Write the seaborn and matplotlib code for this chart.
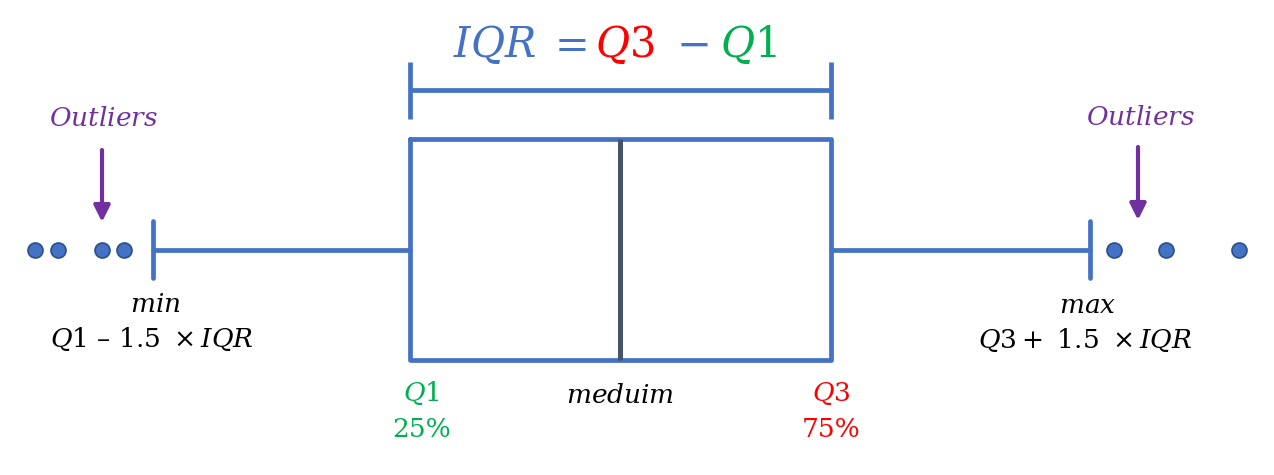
import matplotlib
matplotlib.use("Agg")
import matplotlib.pyplot as plt
import seaborn as sns
import pandas as pd

# ---- data (schematic positions along the value axis) ----
stat_names = ["whislo", "q1", "med", "q3", "whishi"]
stat_values = [153, 410, 620, 831, 1090]
outliers_low = [35, 58, 102, 124]
outliers_high = [1114, 1166, 1239]

BLUE = "#4472C4"
DARK_BLUE = "#2F528F"
MED = "#44546A"
RED = "#FF0000"
GREEN = "#00B050"
PURPLE = "#7030A0"

sns.set_theme(style="white")
plt.rcParams["font.family"] = ["DejaVu Serif"]
plt.rcParams["mathtext.fontset"] = "dejavuserif"

fig = plt.figure(figsize=(12.74, 4.75), dpi=100)
ax = fig.add_axes([0, 0, 1, 1])

stats = dict(zip(stat_names, stat_values))
stats["fliers"] = []
ypos = 249.5
lw = 3.4
ax.bxp([stats], positions=[ypos], widths=[221.5], capwidths=[57],
       orientation="horizontal", showfliers=False, patch_artist=False,
       boxprops=dict(color=BLUE, linewidth=lw),
       whiskerprops=dict(color=BLUE, linewidth=lw),
       capprops=dict(color=BLUE, linewidth=lw),
       medianprops=dict(color=MED, linewidth=3.6, solid_capstyle="butt"))

# outliers via seaborn
out_df = pd.DataFrame({"value": outliers_low + outliers_high,
                       "pos": [ypos] * (len(outliers_low) + len(outliers_high))})
sns.scatterplot(data=out_df, x="value", y="pos", s=115, color=BLUE,
                edgecolor=DARK_BLUE, linewidth=1.3, ax=ax, zorder=5, legend=False)
ax.set_xlim(0, 1274)
ax.set_ylim(475, 0)
ax.axis("off")

# IQR bracket
q1, q3 = stats["q1"], stats["q3"]
ax.plot([q1, q3], [90, 90], color=BLUE, lw=lw, solid_capstyle="butt")
ax.plot([q1, q1], [62, 119], color=BLUE, lw=lw, solid_capstyle="butt")
ax.plot([q3, q3], [62, 119], color=BLUE, lw=lw, solid_capstyle="butt")

# title pieces
tfs = 30
ax.text(495, 57, r"$IQR$", color=BLUE, fontsize=tfs, ha="center", va="baseline")
ax.text(567, 57, r"$=$", color=BLUE, fontsize=tfs, ha="center", va="baseline")
ax.text(625, 57, r"$Q3$", color=RED, fontsize=tfs, ha="center", va="baseline")
ax.text(692, 57, r"$-$", color=BLUE, fontsize=tfs, ha="center", va="baseline")
ax.text(748, 57, r"$Q1$", color=GREEN, fontsize=tfs, ha="center", va="baseline")

# outlier labels and arrows
ofs = 19
ax.text(103, 126, r"$Outliers$", color=PURPLE, fontsize=ofs, ha="center", va="baseline")
ax.text(1140, 125, r"$Outliers$", color=PURPLE, fontsize=ofs, ha="center", va="baseline")
for x, y0, y1 in [(102, 150, 222), (1138, 147, 220)]:
    ax.annotate("", xy=(x, y1), xytext=(x, y0),
                arrowprops=dict(arrowstyle="-|>", color=PURPLE, lw=3,
                                mutation_scale=24, shrinkA=0, shrinkB=0))

lfs = 19
ax.text(155, 312, r"$min$", color="black", fontsize=lfs, ha="center", va="baseline")
ax.text(152, 347, r"$Q1$ – $1.5\ \times IQR$", color="black", fontsize=lfs,
        ha="center", va="baseline")
ax.text(1088, 313, r"$max$", color="black", fontsize=lfs, ha="center", va="baseline")
ax.text(1085, 348, r"$Q3+\ 1.5\ \times IQR$", color="black", fontsize=lfs,
        ha="center", va="baseline")

ax.text(421, 401, r"$Q1$", color=GREEN, fontsize=lfs, ha="center", va="baseline")
ax.text(422, 437, "25%", color=GREEN, fontsize=lfs, ha="center", va="baseline")
ax.text(620, 403, r"$meduim$", color="black", fontsize=lfs, ha="center", va="baseline")
ax.text(831, 401, r"$Q3$", color=RED, fontsize=lfs, ha="center", va="baseline")
ax.text(831, 437, "75%", color=RED, fontsize=lfs, ha="center", va="baseline")

fig.savefig("out.png", dpi=100, facecolor="white")
